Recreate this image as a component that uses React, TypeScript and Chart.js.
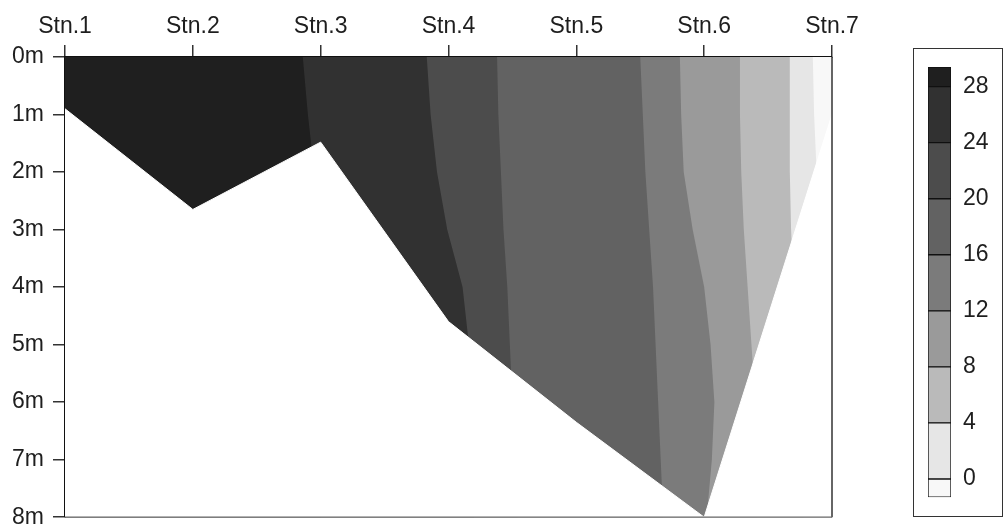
import { useEffect, useRef } from 'react';
import { Chart, registerables } from 'chart.js';

Chart.register(...registerables);

// ---- data ----
const stations = ['Stn.1', 'Stn.2', 'Stn.3', 'Stn.4', 'Stn.5', 'Stn.6', 'Stn.7'];
const stationPos = [1, 2, 3, 4, 5, 6, 7];
const depthTicks = [0, 1, 2, 3, 4, 5, 6, 7, 8];
// bottom depth (m) at each station
const bottomDepth = [0.9, 2.65, 1.48, 4.6, 6.35, 8.0, 1.0];

// contour isolines: horizontal position (station units) at each depth
const isoDepths = [0, 1, 2, 3, 4, 5, 6, 7, 8];
const iso28 = [2.86, 2.9, 2.95, 3.0, 3.0, 3.0, 3.0, 3.0, 3.0];
const iso24 = [3.83, 3.86, 3.91, 3.99, 4.11, 4.16, 4.2, 4.2, 4.2];
const iso20 = [4.38, 4.39, 4.41, 4.43, 4.46, 4.48, 4.5, 4.52, 4.54];
const iso16 = [5.5, 5.52, 5.54, 5.57, 5.6, 5.62, 5.64, 5.66, 5.68];
const iso12 = [5.81, 5.82, 5.84, 5.91, 6.0, 6.05, 6.08, 6.06, 6.02];
const iso8 = [6.28, 6.28, 6.29, 6.31, 6.34, 6.37, 6.4, 6.42, 6.42];
const iso4 = [6.67, 6.67, 6.67, 6.68, 6.7, 6.72, 6.74, 6.76, 6.78];
const iso0 = [6.85, 6.86, 6.88, 6.9, 6.92, 6.94, 6.96, 6.98, 7.0];
const contourLevels = [28, 24, 20, 16, 12, 8, 4, 0];
const isolines = [iso28, iso24, iso20, iso16, iso12, iso8, iso4, iso0];

// band colours, from highest (>28) to lowest (<0)
const bandColors = ['#1f1f1f', '#313131', '#4c4c4c', '#626262', '#7b7b7b', '#9a9a9a', '#bababa', '#e6e6e6', '#f8f8f8'];

// legend
const legendTicks = [0, 4, 8, 12, 16, 20, 24, 28];
const legendMin = -1.3;
const legendMax = 29.4;

const FONT = "'Liberation Sans', Arial, Helvetica, sans-serif";
const TEXT = '#1e1e1e';

const bandsPlugin = {
  id: 'bands',
  beforeDatasetsDraw(chart: any) {
    const { ctx, chartArea, scales } = chart;
    const x = scales.x;
    const y = scales.y;
    ctx.save();
    ctx.beginPath();
    ctx.rect(chartArea.left, chartArea.top, chartArea.width, chartArea.height);
    ctx.clip();
    const n = isoDepths.length;
    const rights = [...isolines, isoDepths.map(() => x.max)];
    // paint lightest first, each band from left edge to its right isoline
    for (let b = bandColors.length - 1; b >= 0; b--) {
      const right = rights[b];
      ctx.beginPath();
      ctx.moveTo(x.getPixelForValue(x.min), y.getPixelForValue(isoDepths[0]));
      for (let i = 0; i < n; i++) {
        ctx.lineTo(x.getPixelForValue(right[i]), y.getPixelForValue(isoDepths[i]));
      }
      ctx.lineTo(x.getPixelForValue(x.min), y.getPixelForValue(isoDepths[n - 1]));
      ctx.closePath();
      ctx.fillStyle = bandColors[b];
      ctx.fill();
    }
    ctx.restore();
  },
  afterDatasetsDraw(chart: any) {
    const { ctx, chartArea } = chart;
    ctx.save();
    ctx.strokeStyle = '#333';
    ctx.lineWidth = 1.5;
    ctx.beginPath();
    ctx.moveTo(chartArea.right, chartArea.top);
    ctx.lineTo(chartArea.right, chartArea.bottom);
    ctx.stroke();
    ctx.strokeStyle = '#666';
    ctx.lineWidth = 1.2;
    ctx.beginPath();
    ctx.moveTo(chartArea.left, chartArea.bottom);
    ctx.lineTo(chartArea.right, chartArea.bottom);
    ctx.stroke();
    ctx.restore();
  },
};

export default function App() {
  const mainRef = useRef<HTMLCanvasElement>(null);
  const legRef = useRef<HTMLCanvasElement>(null);

  useEffect(() => {
    const main = new Chart(mainRef.current as HTMLCanvasElement, {
      type: 'line',
      data: {
        datasets: [
          {
            data: stationPos.map((p, i) => ({ x: p, y: bottomDepth[i] })),
            fill: { value: 8 },
            backgroundColor: '#ffffff',
            borderColor: '#ffffff',
            borderWidth: 1,
            pointRadius: 0,
            tension: 0,
          },
        ],
      },
      options: {
        responsive: false,
        animation: false,
        layout: { padding: { left: 0, right: 48, top: 0, bottom: 22 } },
        plugins: { legend: { display: false }, tooltip: { enabled: false } },
        scales: {
          x: {
            type: 'linear',
            position: 'top',
            min: 1,
            max: 7,
            z: 1,
            afterBuildTicks: (s: any) => {
              s.ticks = stationPos.map((v) => ({ value: v }));
            },
            afterFit: (s: any) => {
              s.height = 57;
            },
            ticks: {
              callback: (v: any) => stations[stationPos.indexOf(Number(v))],
              font: { family: FONT, size: 23 },
              color: TEXT,
              padding: 5,
              maxRotation: 0,
              autoSkip: false,
            },
            grid: { drawOnChartArea: false, tickLength: 12, color: '#333', lineWidth: 1.5 },
            border: { color: '#111', width: 2 },
          },
          y: {
            type: 'linear',
            reverse: true,
            min: 0,
            max: 8,
            z: 1,
            afterBuildTicks: (s: any) => {
              s.ticks = depthTicks.map((v) => ({ value: v }));
            },
            afterFit: (s: any) => {
              s.width = 65;
            },
            ticks: {
              callback: (v: any) => `${v}m`,
              font: { family: FONT, size: 23 },
              color: TEXT,
              padding: 9,
              autoSkip: false,
            },
            grid: { drawOnChartArea: false, tickLength: 12, color: '#333', lineWidth: 1.5 },
            border: { color: '#111', width: 2 },
          },
        },
      },
      plugins: [bandsPlugin],
    } as any);

    const levels = [legendMin, ...legendTicks, legendMax];
    const legendColors = [...bandColors].reverse();
    const legend = new Chart(legRef.current as HTMLCanvasElement, {
      type: 'bar',
      data: {
        labels: [''],
        datasets: legendColors.map((c, i) => ({
          data: [[levels[i], levels[i + 1]]],
          backgroundColor: c,
          borderColor: '#111',
          borderWidth: 1,
          borderSkipped: false,
          barPercentage: 1,
          categoryPercentage: 1,
        })),
      },
      options: {
        responsive: false,
        animation: false,
        layout: { padding: { left: 8, right: 0, top: 27, bottom: 20 } },
        plugins: { legend: { display: false }, tooltip: { enabled: false } },
        scales: {
          x: { stacked: true, display: false },
          y: {
            position: 'right',
            stacked: false,
            min: legendMin,
            max: legendMax,
            afterBuildTicks: (s: any) => {
              s.ticks = legendTicks.map((v) => ({ value: v }));
            },
            afterFit: (s: any) => {
              s.width = 54;
            },
            ticks: { font: { family: FONT, size: 23 }, color: TEXT, padding: 12 },
            grid: { display: false, drawTicks: false },
            border: { display: false },
          },
        },
      },
    } as any);

    return () => {
      main.destroy();
      legend.destroy();
    };
  }, []);

  return (
    <div style={{ position: 'absolute', left: 0, top: 0, width: 1008, height: 526, overflow: 'hidden', background: '#fff' }}>
      <canvas ref={mainRef} width={880} height={540} style={{ position: 'absolute', left: 0, top: 0, width: 880, height: 540 }} />
      <div
        style={{
          position: 'absolute',
          left: 913,
          top: 48,
          width: 90,
          height: 469,
          border: '1.5px solid #333',
          boxSizing: 'border-box',
        }}
      />
      <canvas ref={legRef} width={85} height={483} style={{ position: 'absolute', left: 920, top: 40, width: 85, height: 483 }} />
    </div>
  );
}
